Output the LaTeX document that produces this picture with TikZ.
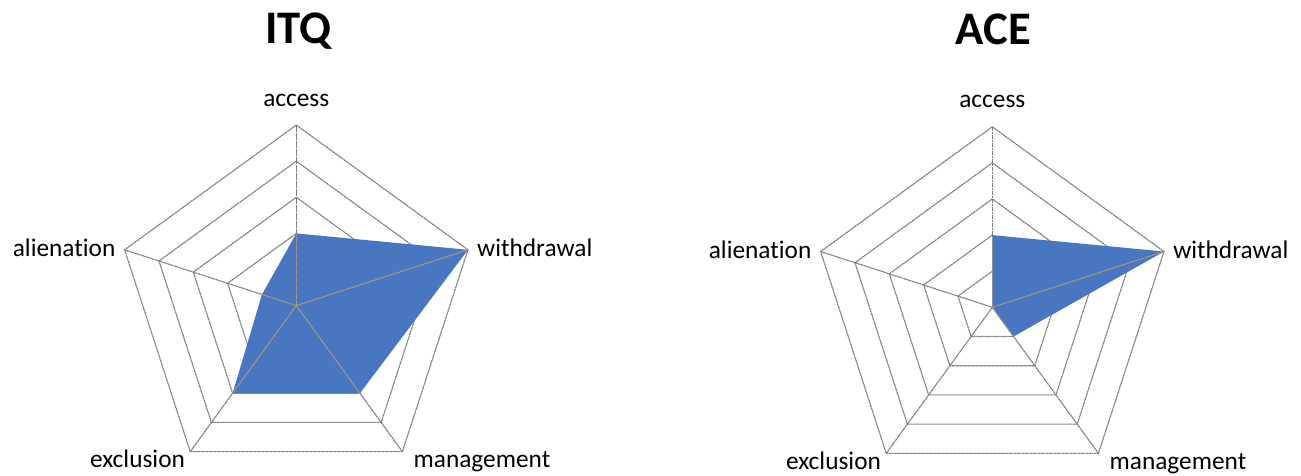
\documentclass[tikz,border=0pt]{standalone}
\usepackage{fontspec}
\setmainfont[Ligatures={NoCommon,NoRare}]{Carlito}
\usetikzlibrary{calc}
\definecolor{gridc}{RGB}{125,125,125}
\definecolor{fillc}{RGB}{72,118,192}
\definecolor{spokec}{RGB}{176,150,120}
\tikzset{
  gridline/.style={draw=gridc, line width=0.85pt, dash pattern=on 1.6pt off 0.4pt},
  spokeline/.style={draw=spokec, line width=0.85pt, dash pattern=on 1.6pt off 0.4pt},
  datafill/.style={fill=fillc, draw=none},
  axislabel/.style={font=\fontsize{19}{22}\selectfont, inner sep=0pt},
  charttitle/.style={font=\bfseries\fontsize{35}{40}\selectfont, inner sep=0pt}
}
% #1 prefix, #2..#6 values (0..5) for access, withdrawal, management, exclusion, alienation
\newcommand{\radarchart}[6]{%
  \foreach \k in {1,...,5}{
    \draw[gridline] (-90:{\k*36.1}) -- (-18:{\k*36.1}) -- (54:{\k*36.1}) -- (126:{\k*36.1}) -- (198:{\k*36.1}) -- cycle;
  }
  \coordinate (#1c) at (0,0);
  \coordinate (#1A) at (-90:180.5);
  \coordinate (#1W) at (-18:180.5);
  \coordinate (#1M) at (54:180.5);
  \coordinate (#1E) at (126:180.5);
  \coordinate (#1L) at (198:180.5);
  \foreach \v in {A,W,M,E,L}{\draw[gridline] (#1c) -- (#1\v);}
  \coordinate (#1pA) at (-90:{#2*36.1});
  \coordinate (#1pW) at (-18:{#3*36.1});
  \coordinate (#1pM) at (54:{#4*36.1});
  \coordinate (#1pE) at (126:{#5*36.1});
  \coordinate (#1pL) at (198:{#6*36.1});
  \fill[datafill] (#1pA) -- (#1pW) -- (#1pM) -- (#1pE) -- (#1pL) -- cycle;
  \begin{scope}
    \clip (#1pA) -- (#1pW) -- (#1pM) -- (#1pE) -- (#1pL) -- cycle;
    \foreach \v in {A,W,M,E,L}{\draw[spokeline] (#1c) -- (#1\v);}
  \end{scope}
  \node[axislabel, anchor=base] (#1tA) at ($(#1A)+(0,-19)$) {access};
  \node[axislabel, anchor=base west] (#1tW) at ($(#1W)+(9,7)$) {withdrawal};
  \node[axislabel, anchor=base west] (#1tM) at ($(#1M)+(11,16)$) {management};
  \node[axislabel, anchor=base east] (#1tE) at ($(#1E)+(-5,16)$) {exclusion};
  \node[axislabel, anchor=base east] (#1tL) at ($(#1L)+(-9,7)$) {alienation};
}
\begin{document}
\begin{tikzpicture}[x=0.75pt,y=-0.75pt]
\useasboundingbox (0,0) rectangle (1301,475);
\begin{scope}[shift={(296.3,305.6)}]
  \radarchart{L}{2}{5}{3}{3}{1}
\end{scope}
\begin{scope}[shift={(992.3,307.3)}]
  \radarchart{R}{2}{5}{1}{0}{0}
\end{scope}
\node[charttitle, anchor=base] (titleL) at (298.5,43) {ITQ};
\node[charttitle, anchor=base] (titleR) at (993.5,44) {ACE};
\end{tikzpicture}
\end{document}
